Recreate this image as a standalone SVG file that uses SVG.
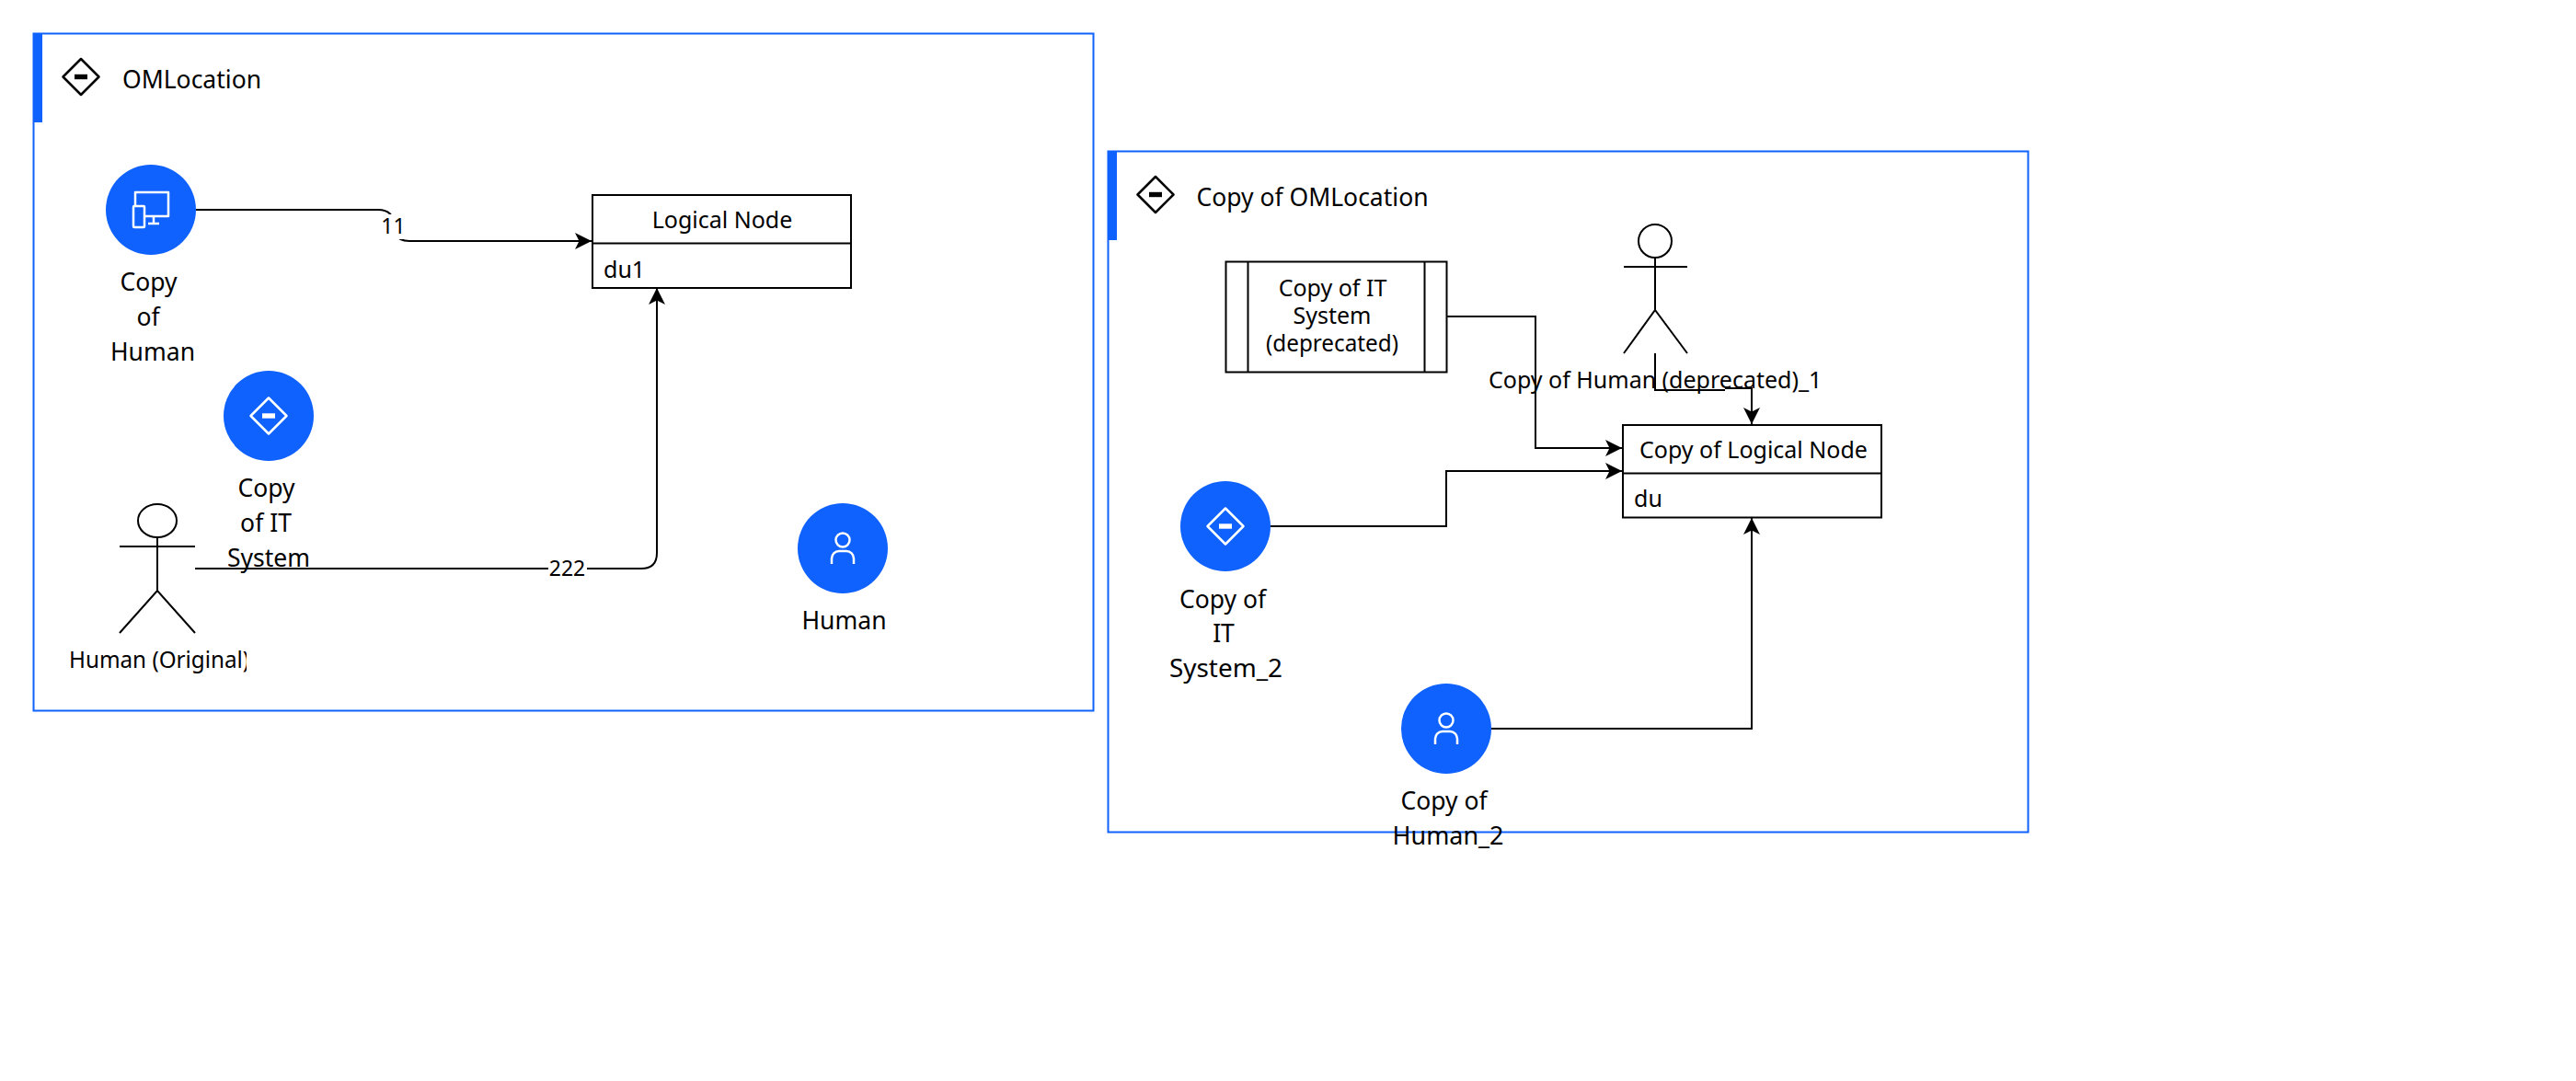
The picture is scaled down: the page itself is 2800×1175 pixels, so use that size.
<svg xmlns="http://www.w3.org/2000/svg" width="2800" height="1175" viewBox="0 0 2800 1175">
<style>
text{font-family:"Noto Sans","Open Sans","Liberation Sans",sans-serif;fill:#000;font-size:26.500px}
.m{text-anchor:middle}
.b{font-size:25px}
.n{font-size:23px}
.frame{fill:#fff;stroke:#0f62fe;stroke-width:2}
.bar{fill:#0f62fe}
.c{fill:none;stroke:#000;stroke-width:2;marker-end:url(#arrow)}
.p{fill:none;stroke:#000;stroke-width:2}
.box{fill:#fff;stroke:#000;stroke-width:2}
.disc{fill:#0f62fe}
.ic{fill:none;stroke:#fff;stroke-width:2.500;stroke-linejoin:round}
.id{fill:none;stroke:#000;stroke-width:2.500;stroke-linejoin:round}
.lb{fill:#fff}
</style>
<defs>
<marker id="arrow" markerUnits="userSpaceOnUse" markerWidth="20" markerHeight="20" refX="18" refY="9" orient="auto">
<path d="M0 0L18 9L0 18L4.500 9Z" fill="#000"/>
</marker>
<clipPath id="clipHuman"><rect x="60" y="695" width="208" height="45"/></clipPath>
<g id="person"><circle cx="0" cy="-9" r="7.500" class="ic"/><path d="M-12 17V11a8 8 0 0 1 8-8h8a8 8 0 0 1 8 8V17" class="ic"/></g>
<g id="loc"><path d="M0-19.500L19.500 0L0 19.500L-19.500 0Z" class="ic"/><rect x="-7" y="-2.700" width="14" height="5.400" fill="#fff"/></g>
<g id="locB"><path d="M0-19.500L19.500 0L0 19.500L-19.500 0Z" class="id"/><rect x="-7" y="-2.700" width="14" height="5.400" fill="#000"/></g>
</defs>

<g id="frame-omlocation">
<rect class="frame" x="36.500" y="36.500" width="1152" height="736"/>
<rect class="bar" x="36" y="36" width="10" height="97"/>
<use href="#locB" x="88" y="83.500"/>
<text x="133" y="96">OMLocation</text>
</g>
<g id="frame-copy-omlocation">
<rect class="frame" x="1204.500" y="164.500" width="1000" height="740"/>
<rect class="bar" x="1204" y="164" width="10" height="97"/>
<use href="#locB" x="1256" y="211.500"/>
<text x="1300.500" y="224">Copy of OMLocation</text>
</g>

<g id="connectors">
<path class="c" d="M213 228H411Q428 228 428 245Q428 262 445 262H643"/>
<rect class="lb" x="414" y="233" width="27" height="27"/>
<text class="n m" x="427.500" y="254">11</text>
<path class="c" d="M212 618H697Q714 618 714 601V313"/>
<rect class="lb" x="596" y="605" width="42" height="27"/>
<text class="n m" x="616.500" y="626">222</text>
<path class="c" d="M1573 344H1669V487H1763"/>
<path class="p" d="M1799 384V424H1875"/>
<path class="c" d="M1875 422H1904V461"/>
<path class="c" d="M1381 572H1572V512H1763"/>
<path class="c" d="M1621 792H1904V563"/>
</g>

<g id="node-copy-of-human">
<circle class="disc" cx="164" cy="228" r="49"/>
<path class="ic" d="M147 223V209H183V235H158"/>
<rect class="ic" x="145" y="224" width="12" height="23" rx="1"/>
<path class="ic" d="M167 235V243M161 243H173"/>
<text class="m" x="161.500" y="316">Copy</text>
<text class="m" x="161" y="354">of</text>
<text class="m" x="166" y="392">Human</text>
</g>

<g id="node-copy-of-it-system">
<circle class="disc" cx="292" cy="452" r="49"/>
<use href="#loc" x="292" y="452"/>
<text class="m" x="289.500" y="540">Copy</text>
<text class="m" x="289" y="578">of IT</text>
<text class="m" x="292" y="616">System</text>
</g>

<g id="node-human-original">
<ellipse class="p" cx="171" cy="566" rx="21" ry="18"/>
<path class="p" d="M130 594H212M171 584V642M130 688L171 642L212 688"/>
<text class="b" x="75" y="726" textLength="196" lengthAdjust="spacingAndGlyphs" clip-path="url(#clipHuman)">Human (Original)</text>
</g>

<g id="node-logical-node">
<rect class="box" x="644" y="212" width="281" height="101"/>
<path class="p" d="M644 264.500H925"/>
<text class="b m" x="785" y="248">Logical Node</text>
<text class="b" x="656" y="302">du1</text>
</g>

<g id="node-human">
<circle class="disc" cx="916" cy="596" r="49"/>
<use href="#person" x="916" y="596"/>
<text class="m" x="917.500" y="684">Human</text>
</g>

<g id="node-copy-it-deprecated">
<rect class="box" x="1332.500" y="284.500" width="240" height="120"/>
<path class="p" d="M1356.500 284.500V404.500M1548.500 284.500V404.500"/>
<text class="b m" x="1448.500" y="322">Copy of IT</text>
<text class="b m" x="1448" y="352">System</text>
<text class="b m" x="1448" y="382" textLength="144" lengthAdjust="spacingAndGlyphs">(deprecated)</text>
</g>

<g id="node-copy-human-deprecated">
<circle class="p" cx="1799" cy="262" r="18"/>
<path class="p" d="M1765 290H1834M1799 280V337M1765 384L1799 337L1834 384"/>
<text class="b" x="1618" y="422">Copy of Human (deprecated)_1</text>
</g>

<g id="node-copy-logical-node">
<rect class="box" x="1764" y="462" width="281" height="100.500"/>
<path class="p" d="M1764 514.500H2045"/>
<text class="b" x="1782" y="498">Copy of Logical Node</text>
<text class="b" x="1776" y="551">du</text>
</g>

<g id="node-copy-it-system-2">
<circle class="disc" cx="1332" cy="572" r="49"/>
<use href="#loc" x="1332" y="572"/>
<text class="m" x="1329" y="661">Copy of</text>
<text class="m" x="1330" y="698">IT</text>
<text class="m" x="1332.500" y="736" textLength="123" lengthAdjust="spacingAndGlyphs">System_2</text>
</g>

<g id="node-copy-human-2">
<circle class="disc" cx="1572" cy="792" r="49"/>
<use href="#person" x="1572" y="792"/>
<text class="m" x="1569.500" y="880">Copy of</text>
<text class="m" x="1574" y="918" textLength="121" lengthAdjust="spacingAndGlyphs">Human_2</text>
</g>
</svg>
